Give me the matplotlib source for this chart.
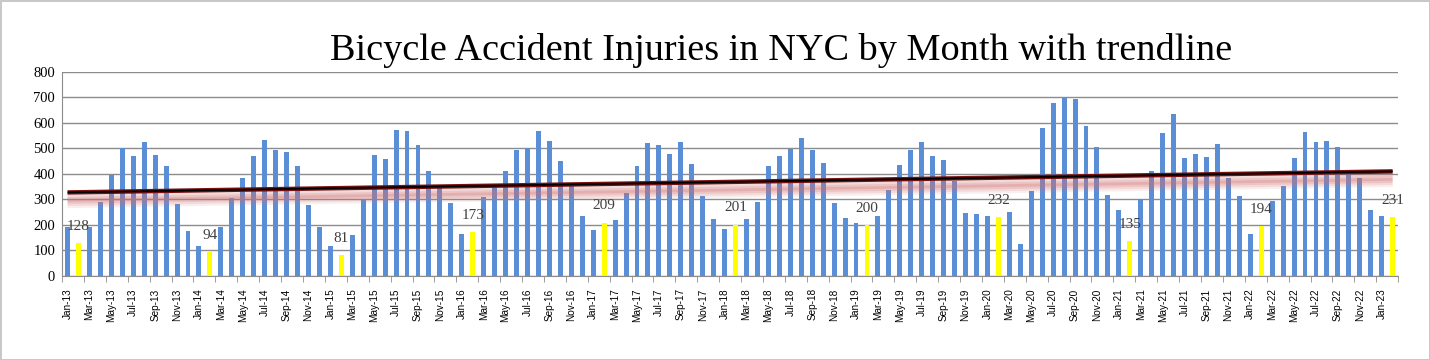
import numpy as np
import matplotlib
matplotlib.use('Agg')
from matplotlib import pyplot as plt
from matplotlib import transforms

# monthly bicycle injuries, Jan-13 .. Feb-23
y2013 = [190, 128, 190, 288, 395, 500, 470, 525, 474, 429, 280, 175]
y2014 = [115, 94, 190, 305, 382, 470, 533, 492, 486, 431, 277, 190]
y2015 = [116, 81, 160, 302, 473, 458, 571, 567, 513, 412, 343, 284]
y2016 = [164, 173, 310, 350, 411, 492, 500, 568, 529, 450, 352, 234]
y2017 = [179, 209, 220, 323, 431, 521, 513, 478, 527, 438, 313, 221]
y2018 = [183, 201, 221, 291, 431, 469, 499, 541, 493, 441, 284, 228]
y2019 = [209, 200, 234, 336, 433, 493, 525, 469, 454, 372, 247, 242]
y2020 = [234, 232, 249, 124, 331, 580, 678, 699, 694, 588, 505, 319]
y2021 = [260, 135, 301, 412, 560, 635, 461, 480, 466, 517, 383, 312]
y2022 = [162, 194, 293, 352, 462, 565, 527, 530, 505, 402, 383, 260]
y2023 = [234, 231]

values = y2013 + y2014 + y2015 + y2016 + y2017 + y2018 + y2019 + y2020 + y2021 + y2022 + y2023
month_names = ['Jan', 'Feb', 'Mar', 'Apr', 'May', 'Jun', 'Jul', 'Aug', 'Sep', 'Oct', 'Nov', 'Dec']
labels = []
for i in range(len(values)):
    labels.append('%s-%02d' % (month_names[i % 12], 13 + i // 12))

x = np.arange(len(values))
is_feb = np.array([lab.startswith('Feb') for lab in labels])
colors = ['#ffff00' if f else '#5a8fd8' for f in is_feb]

fig = plt.figure(figsize=(14.3, 3.6), dpi=100, linewidth=2, edgecolor='#c8c8c8')
ax = fig.add_axes([0.0434, 0.234, 0.9343, 0.566])

ax.bar(x, values, width=0.45, color=colors, zorder=2)

# february labels
for xi, v, f in zip(x, values, is_feb):
    if f:
        ax.annotate(str(v), (xi, v), xytext=(0, 12), textcoords='offset points',
                    ha='center', va='center', fontsize=11, color='#404040',
                    family='Liberation Serif', zorder=5)

# linear trendline with a soft shadow under it
coef = np.polyfit(x, values, 1)
trend = np.polyval(coef, x)
shadow = transforms.offset_copy(ax.transData, fig=fig, x=0, y=-8, units='dots')
for w, a in [(11, 0.12), (8, 0.15), (5, 0.2), (2, 0.25)]:
    ax.plot(x, trend, color='#d07070', lw=w, alpha=a, transform=shadow,
            solid_capstyle='butt', zorder=3)
ax.plot(x, trend, color='#7a1010', lw=3.2, zorder=4, solid_capstyle='butt')
ax.plot(x, trend, color='#000000', lw=1.3, zorder=4, solid_capstyle='butt')

ax.set_xlim(-0.5, len(values) - 0.5)
ax.set_ylim(0, 800)
ax.set_yticks(range(0, 801, 100))
ax.set_xticks(x[::2])
ax.set_xticklabels(labels[::2], rotation=90, fontsize=7.2, family='Liberation Sans')
ax.set_xticks(np.arange(-0.5, len(values), 2), minor=True)
ax.tick_params(axis='x', which='major', length=0, pad=9)
ax.tick_params(axis='x', which='minor', length=4, color='#8c8c8c')
ax.tick_params(axis='y', length=0, pad=5)
for lab in ax.get_yticklabels():
    lab.set_family('Liberation Serif')
    lab.set_fontsize(10.5)

ax.grid(axis='y', color='#8c8c8c', lw=1, zorder=0)
ax.set_axisbelow(True)
for s in ['top', 'right']:
    ax.spines[s].set_visible(False)
ax.spines['left'].set_color('#8c8c8c')
ax.spines['bottom'].set_color('#8c8c8c')

fig.text(0.546, 0.86, 'Bicycle Accident Injuries in NYC by Month with trendline',
         ha='center', va='center', fontsize=27.5, family='Liberation Serif')

fig.savefig('out.png', dpi=100, edgecolor=fig.get_edgecolor())
